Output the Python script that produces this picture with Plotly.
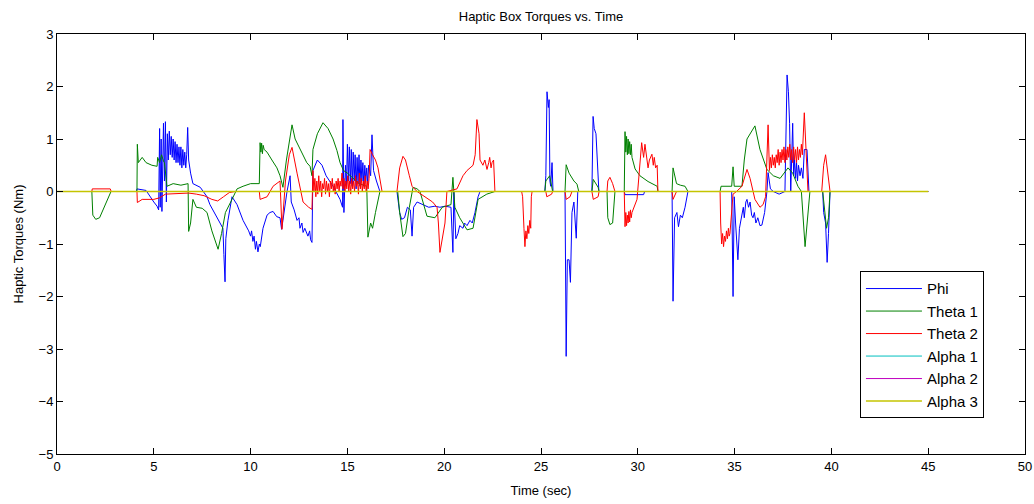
import plotly.graph_objects as go

# ---- Data ----
phi_t = [0, 4.10, 4.13, 4.6, 5.0, 5.17, 5.25, 5.30, 5.33, 5.38, 5.42, 5.50, 5.55, 5.60, 5.65, 5.70,
         5.75, 5.80, 5.85, 5.90, 5.95, 6.00, 6.05, 6.10, 6.15, 6.20, 6.25, 6.30, 6.35, 6.40, 6.45,
         6.50, 6.55, 6.60, 6.65, 6.70, 6.75, 6.80, 6.90, 7.02, 7.4, 7.75, 7.9, 8.26, 8.57, 8.62, 8.68,
         8.72, 8.83, 9.04, 9.3, 9.61, 9.9, 10.0, 10.05, 10.12, 10.18, 10.25, 10.3, 10.38, 10.45, 10.5,
         10.64, 10.85, 11.0, 11.16, 11.35, 11.52, 11.6, 11.67, 11.88, 12.04, 12.10, 12.25, 12.40, 12.5,
         12.55, 12.65, 12.71, 12.8, 12.96, 13.05, 13.1, 13.17, 13.22, 13.45, 13.69, 13.9, 14.26, 14.62,
         14.75, 14.77, 14.82, 14.9, 14.95, 15.0, 15.05, 15.1, 15.15, 15.2, 15.25, 15.3, 15.35, 15.4,
         15.45, 15.5, 15.55, 15.6, 15.65, 15.7, 15.75, 15.8, 15.85, 15.9, 15.95, 16.0, 16.05, 16.1,
         16.2, 16.27, 16.35, 16.5, 16.68, 17.56, 17.7, 17.8, 17.95, 18.1, 18.25, 18.34, 18.42, 18.6,
         18.9, 19.2, 19.52, 19.78, 20.04, 20.35, 20.45, 20.5, 20.6, 20.71, 20.8, 20.97, 21.05, 21.18,
         21.33, 21.45, 21.59, 21.75, 21.85, 25.2, 25.25, 25.31, 25.38, 25.42, 25.46, 25.5, 25.57, 25.62,
         26.24, 26.30, 26.36, 26.45, 26.52, 26.6, 26.7, 26.76, 26.82, 26.9, 27.63, 27.69, 27.75, 27.84,
         27.9, 27.95, 27.99, 29.3, 29.34, 30.3, 30.35, 31.77, 31.82, 31.9, 32.02, 32.1, 32.2, 32.3,
         32.44, 32.59, 34.85, 34.92, 34.98, 35.05, 35.17, 35.25, 35.38, 35.45, 35.5, 35.58, 35.64, 35.72,
         35.8, 35.88, 35.95, 36.02, 36.1, 36.2, 36.31, 36.41, 36.55, 36.67, 36.73, 36.85, 37.0, 37.3,
         37.6, 37.71, 37.78, 37.84, 37.9, 37.95, 38.0, 38.05, 38.1, 38.15, 38.2, 38.25, 38.3, 38.38,
         38.45, 38.53, 38.6, 38.74, 38.84, 39.55, 39.6, 39.7, 39.78, 39.85, 39.93, 45]
phi_v = [0, 0, 0.05, 0.02, -0.2, -0.28, -0.35, 1.2, -0.3, 1.0, -0.38, 1.3, 0.2, 1.33, -0.2, 1.1,
         0.6, 1.15, 0.7, 1.05, 0.65, 1.0, 0.6, 0.95, 0.55, 0.9, 0.55, 0.85, 0.5, 0.85, 0.45,
         0.8, 0.5, 0.75, 0.45, 0.7, 1.22, 0.6, 0.35, 0.15, 0.08, -0.1, -0.25, -0.5, -0.7, -1.2, -1.72,
         -0.9, -0.55, -0.1, -0.25, -0.55, -0.75, -0.85, -0.75, -0.95, -0.85, -1.1, -0.95, -1.15, -1.0, -1.05,
         -0.7, -0.45, -0.4, -0.38, -0.48, -0.5, -0.72, -0.55, 0.0, 0.3, -0.2, -0.35, -0.55, -0.5,
         -0.7, -0.6, -0.78, -0.7, -0.85, -0.75, -0.92, -0.97, 0.4, 0.6, 0.5, 0.3, 0.1, -0.15,
         -0.3, 1.37, -0.4, 0.5, 0.1, 0.9, 0.2, 0.85, 0.15, 0.8, 0.1, 0.75, 0.2, 0.7,
         0.05, 0.65, 0.15, 0.7, 0.1, 0.6, 0.2, 0.55, 0.1, 0.5, 0.2, 0.45, 0.15, 0.5,
         0.3, 1.08, 0.4, 0.2, 0.0, 0, -0.4, -0.53, -0.5, -0.3, -0.35, -0.85, -0.3, -0.2,
         -0.25, -0.3, -0.28, -0.3, -0.28, -0.3, -1.16, 0.0, -0.9, -0.8, -0.65, -0.7, -0.6, -0.65,
         -0.55, -0.6, -0.4, -0.1, 0, 0, 0.3, 1.9, 1.6, 1.75, 0.2, 0.1, 0.55, 0.0,
         0, -3.14, -1.3, -1.3, -1.73, -0.4, -0.2, -0.5, -0.89, 0, 0, 1.43, 1.2, 1.1,
         0.67, 0.48, 0, 0, -0.06, -0.06, 0, 0, -2.09, -0.5, -0.4, -0.67, -0.45, -0.5,
         -0.3, 0, 0, -2.0, -0.1, -0.6, -1.3, -0.7, -0.45, -0.3, -0.5, -0.2, -0.15, -0.3,
         -0.2, -0.45, -0.5, -0.4, -0.6, -0.5, -0.65, -0.64, -0.4, 0.0, 0.36, 0.05, 0.0, -0.05,
         0.0, 2.22, 1.9, 1.3, 0.0, 0.5, 1.3, 0.3, 0.6, 0.25, 0.55, 0.2, 0.5, 0.3,
         0.45, 0.25, 0.8, 0.8, 0, 0, -0.4, -0.6, -1.35, -0.8, 0, 0]

theta1_t = [0, 1.80, 1.85, 2.0, 2.2, 2.38, 2.55, 2.79, 4.13, 4.15, 4.2, 4.4, 4.6, 4.9, 5.17, 5.2, 5.3,
            5.4, 5.5, 5.55, 5.68, 6.0, 6.4, 6.77, 6.8, 6.9, 7.02, 7.2, 7.5, 7.75, 8.0, 8.32, 8.5, 8.7,
            9.04, 9.3, 9.61, 10.0, 10.45, 10.49, 10.53, 10.57, 10.61, 10.65, 10.7, 10.85, 11.1, 11.36,
            11.52, 11.67, 11.85, 12.04, 12.14, 12.3, 12.55, 12.9, 13.07, 13.17, 13.22, 13.45, 13.74, 14.0,
            14.26, 14.46, 14.62, 14.8, 15.0, 15.3, 15.6, 16.0, 16.06, 16.2, 16.3, 16.45, 16.68, 17.6,
            17.7, 17.87, 18.0, 18.2, 18.39, 18.6, 18.75, 19.11, 19.52, 19.9, 20.35, 20.45, 20.55, 20.8,
            21.18, 21.49, 21.75, 22.2, 22.62, 25.2, 25.25, 25.45, 25.6, 26.24, 26.3, 26.45, 26.55, 26.7,
            26.86, 26.95, 27.63, 27.7, 27.95, 28.0, 28.41, 28.45, 28.56, 28.7, 28.82, 29.3, 29.34, 29.38,
            29.42, 29.46, 29.5, 29.54, 29.58, 29.62, 29.66, 29.7, 29.86, 30.11, 30.53, 31.0, 31.04, 31.77,
            31.82, 32.0, 32.2, 32.44, 32.59, 34.25, 34.3, 34.85, 34.92, 34.98, 35.38, 35.5, 35.64, 35.95,
            36.05, 36.31, 36.67, 37.0, 37.35, 37.76, 38.0, 38.27, 38.45, 38.64, 38.75, 38.89, 39.55, 39.6,
            39.75, 39.85, 39.93, 45]
theta1_v = [0, 0, -0.45, -0.53, -0.5, -0.35, -0.2, 0, 0, 0.9, 0.55, 0.65, 0.55, 0.5, 0.48, 0.65, 0.55,
            0.7, 0.58, 0.55, 0.1, 0.15, 0.12, 0.15, -0.76, -0.6, -0.15, -0.3, -0.32, -0.4, -0.75, -1.1, -0.8, -0.4,
            -0.15, 0.05, 0.1, 0.15, 0.15, 0.93, 0.75, 0.92, 0.72, 0.88, 0.8, 0.75, 0.6, 0.45,
            0.3, 0.08, 0.6, 1.1, 1.27, 1.0, 0.8, 0.55, 0.48, 0.3, 0.8, 1.1, 1.31, 1.2,
            1.0, 0.78, 0.55, 0.4, 0.35, 0.25, 0.15, 0.1, -0.87, -0.6, -0.7, -0.4, 0, 0,
            -0.4, -0.86, -0.8, -0.3, 0.08, 0.05, 0.0, -0.47, -0.5, -0.3, -0.25, 0.27, -0.3, -0.5,
            -0.73, -0.7, -0.15, -0.05, 0, 0, 0.2, 0.3, 0.0, 0, 0.51, 0.35, 0.29, 0.2,
            0.14, 0, 0, 0.23, 0.08, 0, 0, -0.5, -0.63, -0.6, 0, 0, 1.14, 0.75,
            1.05, 0.7, 1.0, 0.72, 0.95, 0.7, 0.9, 0.65, 0.43, 0.3, 0.19, 0.1, 0, 0,
            0.45, 0.15, 0.12, 0.1, 0, 0, 0.1, 0.1, 0.47, 0.1, 0.1, 0.6, 1.0, 1.2,
            1.25, 0.8, 0.42, 0.3, 0.25, 0.45, 0.35, 0.1, 0.0, -1.05, -0.6, 0, 0, -0.2,
            -0.7, -0.5, 0, 0]

theta2_t = [0, 1.80, 1.82, 2.75, 2.8, 4.13, 4.15, 4.4, 5.0, 5.3, 5.6, 6.0, 6.8, 7.2, 7.6, 8.0, 8.3, 8.6,
            8.9, 9.2, 10.45, 10.49, 10.85, 11.16, 11.52, 11.62, 11.8, 12.0, 12.14, 12.4, 12.71, 13.0,
            13.17, 13.22, 13.27, 13.32, 13.37, 13.42, 13.47, 13.52, 13.57, 13.62, 13.67, 13.72, 13.77,
            13.82, 13.87, 13.92, 13.97, 14.02, 14.07, 14.12, 14.17, 14.22, 14.27, 14.32, 14.37, 14.42,
            14.47, 14.52, 14.57, 14.62, 14.67, 14.72, 14.77, 14.82, 14.87, 14.92, 14.97, 15.02, 15.07,
            15.12, 15.17, 15.22, 15.27, 15.32, 15.37, 15.42, 15.47, 15.52, 15.57, 15.62, 15.67, 15.72,
            15.77, 15.82, 15.87, 15.92, 15.97, 16.02, 16.07, 16.12, 16.17, 16.3, 16.45, 16.58, 16.7,
            16.79, 17.56, 17.7, 17.87, 18.0, 18.2, 18.34, 18.6, 19.11, 19.4, 19.63, 19.7, 19.78, 19.9,
            20.04, 20.14, 20.66, 20.97, 21.18, 21.49, 21.6, 21.69, 21.8, 21.85, 22.0, 22.1, 22.21, 22.3,
            22.35, 22.42, 22.47, 22.55, 22.62, 24.0, 24.05, 24.12, 24.17, 24.22, 24.27, 24.32, 24.37,
            24.42, 24.47, 24.5, 24.54, 25.25, 25.3, 25.55, 25.6, 26.24, 26.3, 26.5, 26.6, 27.63, 27.7,
            27.95, 28.0, 28.41, 28.45, 28.56, 28.7, 28.82, 29.3, 29.34, 29.38, 29.42, 29.46, 29.5, 29.54,
            29.58, 29.62, 29.66, 29.7, 29.96, 30.11, 30.2, 30.3, 30.37, 30.53, 30.6, 30.73, 30.8, 30.85,
            30.92, 31.0, 31.04, 31.77, 31.82, 32.0, 34.25, 34.28, 34.33, 34.38, 34.43, 34.48, 34.53,
            34.58, 34.63, 34.68, 34.72, 34.76, 34.92, 35.1, 35.38, 35.64, 35.8, 36.05, 36.31, 36.47,
            36.6, 36.73, 36.8, 36.85, 36.9, 36.95, 37.0, 37.05, 37.1, 37.15, 37.2, 37.25, 37.3, 37.35,
            37.4, 37.45, 37.5, 37.55, 37.6, 37.65, 37.7, 37.75, 37.8, 37.85, 37.9, 37.95, 38.0, 38.05,
            38.1, 38.15, 38.2, 38.25, 38.3, 38.35, 38.4, 38.45, 38.5, 38.6, 38.7, 38.79, 39.5, 39.6,
            39.7, 39.85, 39.93, 45]
theta2_v = [0, 0, 0.05, 0.05, 0, 0, -0.21, -0.15, -0.15, -0.12, -0.05, -0.04, -0.03, -0.05, -0.08, -0.15, -0.18, -0.1,
            -0.02, 0, 0, -0.15, -0.1, 0.1, 0.2, -0.72, 0.2, 0.7, 0.84, 0.35, -0.2, -0.3,
            -0.34, 0.4, 0.0, 0.25, -0.1, 0.2, -0.05, 0.3, 0.0, 0.2, -0.1, 0.15, 0.05,
            0.25, -0.05, 0.2, 0.0, 0.15, -0.1, 0.2, 0.05, 0.25, 0.0, 0.15, -0.05, 0.2,
            0.05, 0.25, 0.0, 0.2, 0.1, 0.35, 0.05, 0.25, 0.0, 0.2, 0.05, 0.3, 0.0,
            0.2, -0.05, 0.25, 0.05, 0.2, 0.0, 0.3, 0.1, 0.2, -0.05, 0.35, 0.05, 0.25,
            0.0, 0.2, 0.05, 0.3, 0.0, 0.2, 0.05, 0.25, 0.8, 0.7, 0.6, 0.45, 0.2,
            0, 0, 0.45, 0.67, 0.6, 0.3, 0.1, 0.0, -0.13, -0.2, -0.3, -0.6, -1.16, -0.9,
            -0.6, 0, 0.05, 0.3, 0.4, 0.5, 0.7, 1.37, 1.1, 0.6, 0.5, 0.6, 0.42, 0.55,
            0.65, 0.45, 0.55, 0.6, 0, 0, -0.1, -0.7, -1.05, -0.75, -0.9, -0.65, -0.8,
            -0.55, -0.7, -0.1, 0, 0, -0.1, -0.05, 0, 0, -0.15, -0.1, 0, 0, -0.15,
            -0.1, 0, 0, 0.2, 0.27, 0.15, 0, 0, -0.67, -0.4, -0.65, -0.45, -0.6, -0.38,
            -0.58, -0.35, -0.5, -0.4, -0.15, 0.5, 0.93, 0.65, 0.9, 0.45, 0.6, 0.71, 0.5, 0.65,
            0.45, 0.5, 0, 0, -0.15, 0, 0, -0.6, -1.0, -0.8, -1.05, -0.85, -0.95,
            -0.75, -0.9, -0.7, -0.85, -0.8, -0.05, 0.0, 0.1, 0.42, 0.25, -0.15, -0.3, -0.25,
            -0.1, 1.27, 0.4, 0.65, 0.45, 0.7, 0.5, 0.65, 0.45, 0.7, 0.55, 0.8, 0.5, 0.75,
            0.55, 0.8, 0.6, 0.85, 0.55, 0.8, 0.6, 0.85, 0.65, 0.9, 0.6, 0.8, 0.55, 0.85,
            0.6, 0.8, 0.55, 0.85, 0.6, 0.8, 0.65, 0.9, 0.7, 1.5, 0.7, 0, 0, 0.5,
            0.7, 0.3, 0, 0]

alpha_t = [0, 45]
alpha1_v = [0, 0]
alpha2_v = [0, 0]
alpha3_v = [0, 0]

series_names = ["Phi", "Theta 1", "Theta 2", "Alpha 1", "Alpha 2", "Alpha 3"]
x_ticks = [0, 5, 10, 15, 20, 25, 30, 35, 40, 45, 50]
y_ticks = [-5, -4, -3, -2, -1, 0, 1, 2, 3]

colors = ["#0000ff", "#008000", "#ff0000", "#00bfbf", "#bf00bf", "#c4c400"]
widths = [1, 1, 1, 1, 1, 1.5]

fig = go.Figure()
data = [(phi_t, phi_v), (theta1_t, theta1_v), (theta2_t, theta2_v),
        (alpha_t, alpha1_v), (alpha_t, alpha2_v), (alpha_t, alpha3_v)]
for (t, v), name, c, w in zip(data, series_names, colors, widths):
    fig.add_trace(go.Scatter(x=t, y=v, mode="lines", name=name,
                             line=dict(color=c, width=w)))

font_family = "Liberation Sans"
axis_common = dict(showline=True, linecolor="black", linewidth=1, mirror="ticks",
                   ticks="inside", ticklen=6, tickcolor="black", showgrid=False,
                   zeroline=False, automargin=False,
                   tickfont=dict(family=font_family, size=13, color="black"))

fig.update_layout(
    width=1034, height=504,
    margin=dict(l=57, r=9, t=34, b=50, autoexpand=False),
    paper_bgcolor="white", plot_bgcolor="white",
    title=dict(text="Haptic Box Torques vs. Time", x=0.5, xref="paper",
               yref="container", y=1 - 16 / 504, yanchor="middle",
               font=dict(family=font_family, size=13, color="black")),
    xaxis=dict(range=[0, 50], tickvals=x_ticks,
               title=dict(text="Time (sec)", standoff=13,
                          font=dict(family=font_family, size=13, color="black")),
               **axis_common),
    yaxis=dict(range=[-5, 3], tickvals=y_ticks,
               title=dict(text="Haptic Torques (Nm)", standoff=12,
                          font=dict(family=font_family, size=13, color="black")),
               **axis_common),
    legend=dict(x=0.8295, y=0.435, xanchor="left", yanchor="top",
                bgcolor="white", bordercolor="black", borderwidth=1,
                font=dict(family=font_family, size=15, color="black"),
                itemwidth=56, tracegroupgap=0),
    showlegend=True,
)

fig.write_html("out.html", config={"displayModeBar": False},
               post_script="document.body.style.margin='0';document.body.style.overflow='hidden';")
